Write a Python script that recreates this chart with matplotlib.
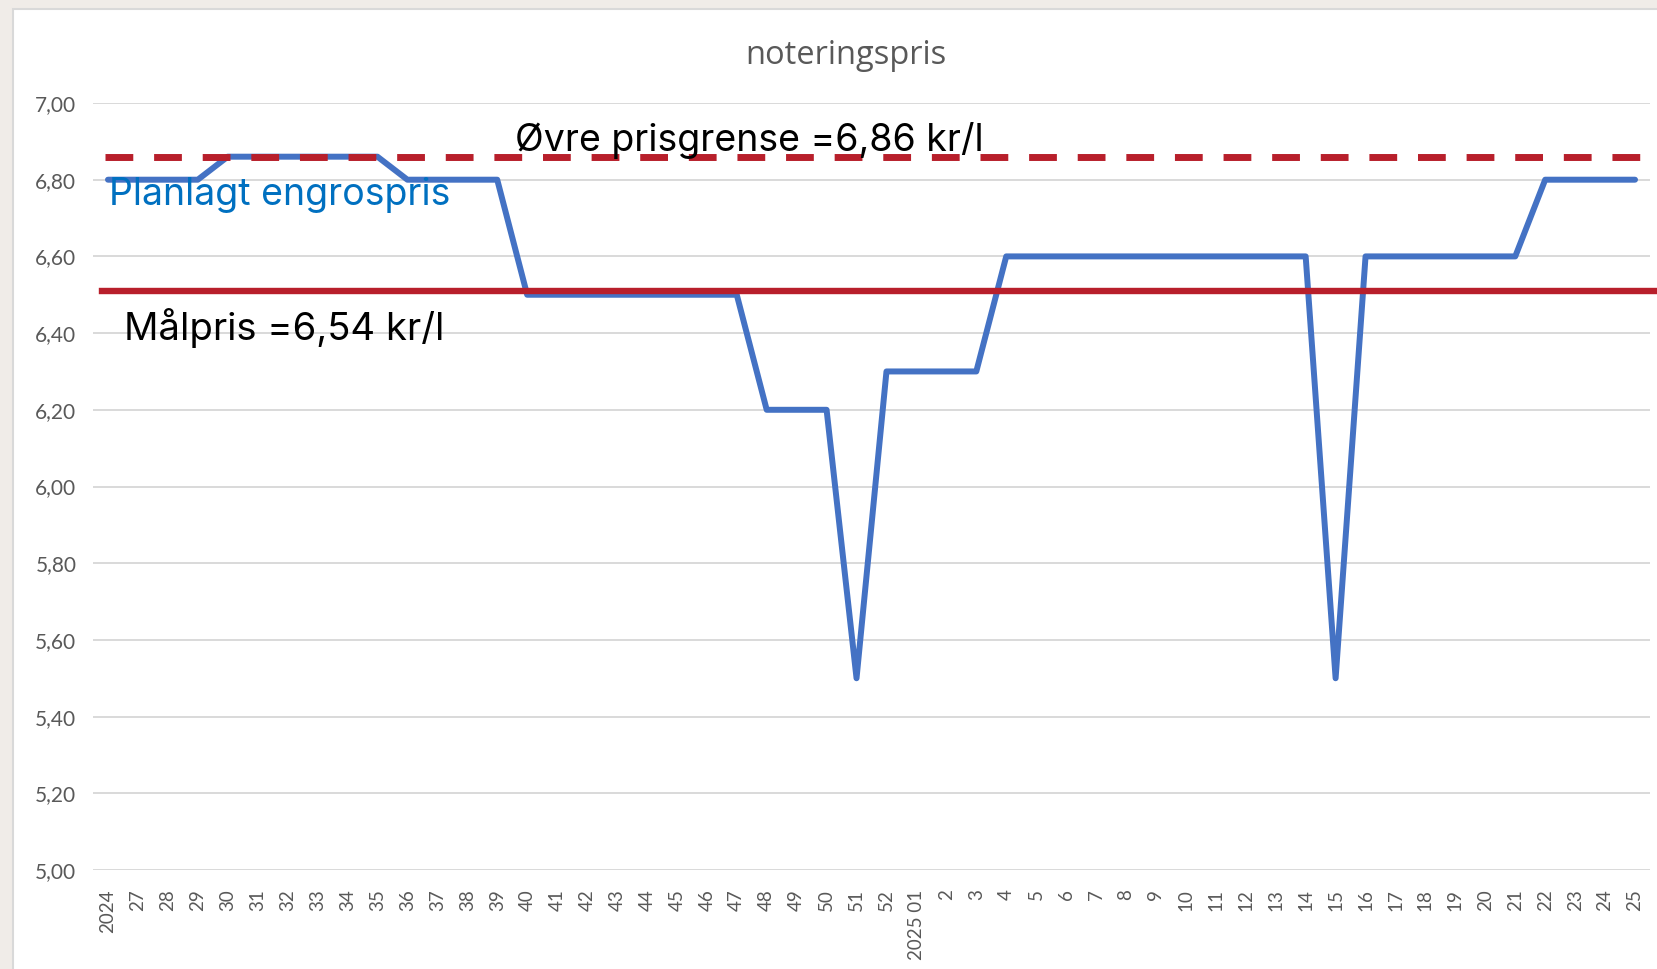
import matplotlib.pyplot as plt
from matplotlib.patches import Rectangle

# weeks on the category axis
weeks = ["2024"] + [str(w) for w in range(27, 53)] + ["2025 01"] + [str(w) for w in range(2, 26)]

# planlagt engrospris per week (kr/l)
prices = [6.80, 6.80, 6.80, 6.80, 6.86, 6.86, 6.86, 6.86, 6.86, 6.86,
          6.80, 6.80, 6.80, 6.80, 6.50, 6.50, 6.50, 6.50, 6.50, 6.50,
          6.50, 6.50, 6.20, 6.20, 6.20, 5.50, 6.30, 6.30, 6.30, 6.30,
          6.60, 6.60, 6.60, 6.60, 6.60, 6.60, 6.60, 6.60, 6.60, 6.60,
          6.60, 5.50, 6.60, 6.60, 6.60, 6.60, 6.60, 6.60, 6.80, 6.80,
          6.80, 6.80]

upper_limit = 6.86   # Øvre prisgrense
target_line = 6.51   # Målpris line as drawn in the picture
yticks = [5.0, 5.2, 5.4, 5.6, 5.8, 6.0, 6.2, 6.4, 6.6, 6.8, 7.0]

fig = plt.figure(figsize=(16.57, 9.69), dpi=100)
fig.patch.set_facecolor("#F0ECE8")

# white chart area with a thin grey frame
fig.patches.append(Rectangle((13 / 1657, -0.05), 1.1, 1.05 - 9 / 969,
                             transform=fig.transFigure, facecolor="white",
                             edgecolor="#D9D9D9", linewidth=1.5, zorder=-10))

ax = fig.add_axes([93 / 1657, 99 / 969, 1557 / 1657, 767 / 969])
ax.set_facecolor("none")

x = list(range(len(weeks)))
ax.plot(x, prices, color="#4472C4", linewidth=4.3, solid_capstyle="round",
        solid_joinstyle="round", zorder=3)

# red limit lines go out past the plot area like in the picture
ax.axhline(upper_limit, xmin=0.008, xmax=1.01, color="#B81F2B", linewidth=5,
           dashes=(4, 3), clip_on=False, zorder=4)
ax.axhline(target_line, xmin=0.006, xmax=1.01, color="#B81F2B", linewidth=4.6,
           clip_on=False, zorder=4)

ax.set_xlim(-0.5, len(weeks) - 0.5)
ax.set_ylim(5.0, 7.0)
ax.set_yticks(yticks)
ax.set_yticklabels([("%.2f" % v).replace(".", ",") for v in yticks])
ax.set_xticks(x, weeks, rotation=90)
ax.tick_params(axis="y", length=0, pad=12, labelsize=15, labelcolor="#595959")
ax.tick_params(axis="x", length=0, pad=14, labelsize=13.5, labelcolor="#595959")
for lab in ax.get_xticklabels() + ax.get_yticklabels():
    lab.set_family("Lato")

ax.grid(axis="y", color="#D9D9D9", linewidth=1.4)
ax.set_axisbelow(True)
for s in ax.spines.values():
    s.set_visible(False)

# title sits a bit left of the plot centre in the original
fig.text(846 / 1657, 913 / 969, "noteringspris", fontsize=23.5, color="#595959",
         family="Open Sans", ha="center", va="center")

# text boxes
ax.text(13.6, 6.875, "Øvre prisgrense =6,86 kr/l", fontsize=27, family="Inter",
        color="black", ha="left", va="baseline", zorder=5)
ax.text(0.03, 6.734, "Planlagt engrospris", fontsize=27, family="Inter",
        color="#0070C0", ha="left", va="baseline", zorder=5)
ax.text(0.53, 6.382, "Målpris =6,54 kr/l", fontsize=27.5, family="Inter",
        color="black", ha="left", va="baseline", zorder=5)

plt.savefig("out.png", dpi=100, facecolor=fig.get_facecolor())
